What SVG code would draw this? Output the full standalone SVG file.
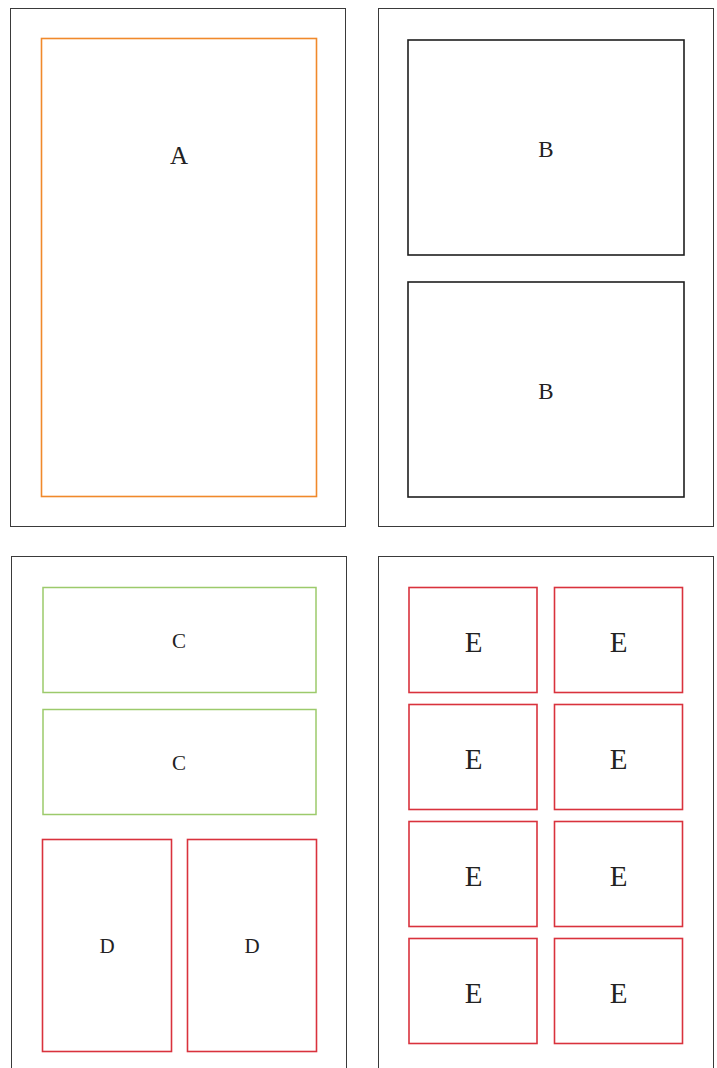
<svg xmlns="http://www.w3.org/2000/svg" width="717" height="1068" viewBox="0 0 717 1068">
<style>
.panel{fill:#fff;stroke:#3a3a3a;stroke-width:1}
.a{fill:none;stroke:#f0892b;stroke-width:1.6}
.b{fill:none;stroke:#1e1e1e;stroke-width:1.6}
.c{fill:none;stroke:#9cca6b;stroke-width:1.5}
.r{fill:none;stroke:#d9323d;stroke-width:1.6}
text{font-family:"Liberation Serif","DejaVu Serif",serif;fill:#222;text-anchor:middle}
.ta{font-size:25px}.tb{font-size:23px}.tc{font-size:21px}.td{font-size:21px}.te{font-size:29px}
</style>
<rect width="717" height="1068" fill="#fff"/>
<g id="panels">
<rect class="panel" x="10.5" y="8.5" width="335" height="518"/>
<rect class="panel" x="378.5" y="8.5" width="335" height="518"/>
<rect class="panel" x="11.5" y="556.5" width="335" height="530"/>
<rect class="panel" x="378.5" y="556.5" width="335" height="530"/>
</g>
<g id="connectors"></g>
<g id="nodeA"><rect class="a" x="41.5" y="38.5" width="275" height="458"/><text class="ta" x="179" y="164">A</text></g>
<g id="nodeB1"><rect class="b" x="408" y="40" width="276" height="215"/><text class="tb" x="546" y="157">B</text></g>
<g id="nodeB2"><rect class="b" x="408" y="282" width="276" height="215"/><text class="tb" x="546" y="399">B</text></g>
<g id="nodeC1"><rect class="c" x="43" y="587.5" width="273" height="105"/><text class="tc" x="179" y="648">C</text></g>
<g id="nodeC2"><rect class="c" x="43" y="709.5" width="273" height="105"/><text class="tc" x="179" y="770">C</text></g>
<g id="nodeD1"><rect class="r" x="42.5" y="839.5" width="129" height="212"/><text class="td" x="107" y="953">D</text></g>
<g id="nodeD2"><rect class="r" x="187.5" y="839.5" width="129" height="212"/><text class="td" x="252" y="953">D</text></g>
<g id="nodeE1"><rect class="r" x="409" y="587.5" width="128" height="105"/><text class="te" x="473.5" y="652">E</text></g>
<g id="nodeE2"><rect class="r" x="554.5" y="587.5" width="128" height="105"/><text class="te" x="618.5" y="652">E</text></g>
<g id="nodeE3"><rect class="r" x="409" y="704.5" width="128" height="105"/><text class="te" x="473.5" y="769">E</text></g>
<g id="nodeE4"><rect class="r" x="554.5" y="704.5" width="128" height="105"/><text class="te" x="618.5" y="769">E</text></g>
<g id="nodeE5"><rect class="r" x="409" y="821.5" width="128" height="105"/><text class="te" x="473.5" y="886">E</text></g>
<g id="nodeE6"><rect class="r" x="554.5" y="821.5" width="128" height="105"/><text class="te" x="618.5" y="886">E</text></g>
<g id="nodeE7"><rect class="r" x="409" y="938.5" width="128" height="105"/><text class="te" x="473.5" y="1003">E</text></g>
<g id="nodeE8"><rect class="r" x="554.5" y="938.5" width="128" height="105"/><text class="te" x="618.5" y="1003">E</text></g>
</svg>
